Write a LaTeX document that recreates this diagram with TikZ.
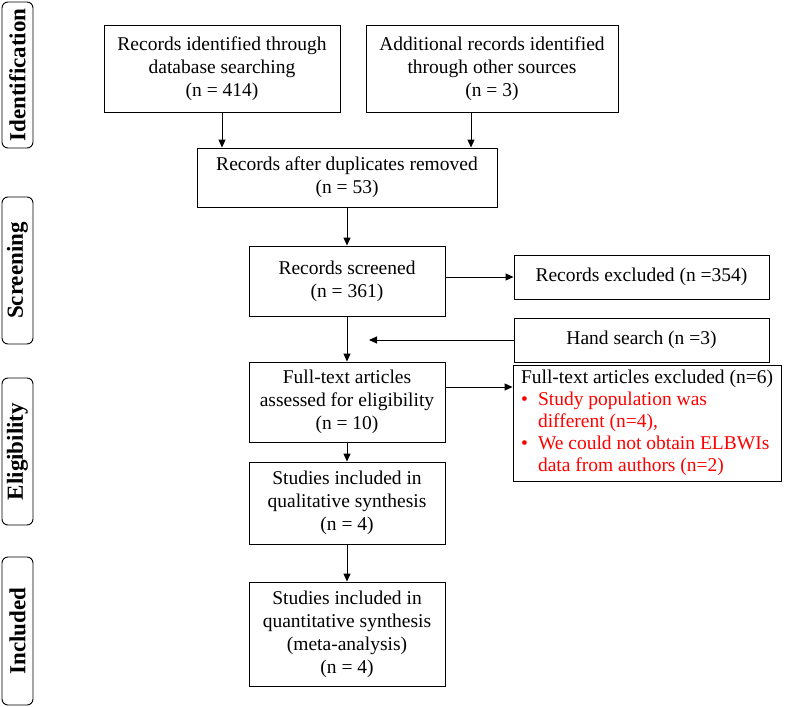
\documentclass[tikz,border=0pt]{standalone}
\usepackage{fontspec}
\setmainfont{Liberation Serif}
\usetikzlibrary{arrows.meta}
\begin{document}
\begin{tikzpicture}[x=1pt, y=-1pt,
  font=\fontsize{19.5pt}{23pt}\selectfont,
  box/.style={draw, line width=0.9pt, align=center, inner sep=0pt},
  phase/.style={draw, line width=0.9pt, rounded corners=6pt, rotate=90,
    minimum height=31pt, inner sep=0pt, font=\fontsize{23pt}{25pt}\selectfont\bfseries},
  arr/.style={-{Triangle[length=8pt,width=7pt]}, line width=0.9pt}]
\useasboundingbox (0,0) rectangle (786,706);

% phases on the left
\node[phase, minimum width=146pt] (ident) at (17.5,75) {Identification};
\node[phase, minimum width=147pt] (scr) at (17.5,270.5) {Screening};
\node[phase, minimum width=147pt] (elig) at (17.5,451.5) {Eligibility};
\node[phase, minimum width=148pt] (incl) at (17.5,631) {Included};

% main flow
\node[box, minimum width=236pt, minimum height=87pt] (dbrec) at (222,68.5) {Records identified through\\database searching\\(n = 414)};
\node[box, minimum width=252pt, minimum height=87pt] (other) at (492,68.5) {Additional records identified\\through other sources\\(n = 3)};
\node[box, minimum width=300pt, minimum height=59pt] (dupl) at (347,177.5) {Records after duplicates removed\\(n = 53)};
\node[box, minimum width=196pt, minimum height=70pt] (screen) at (347,281) {Records screened\\(n = 361)};
\node[box, minimum width=196pt, minimum height=80pt] (fulltext) at (347,402) {Full-text articles\\assessed for eligibility\\(n = 10)};
\node[box, minimum width=196pt, minimum height=82pt] (qual) at (347,503) {Studies included in\\qualitative synthesis\\(n = 4)};
\node[box, minimum width=196pt, minimum height=104pt] (quant) at (347,634) {Studies included in\\quantitative synthesis\\(meta-analysis)\\(n = 4)};

% right column
\node[box, minimum width=255pt, minimum height=44pt] (recexcl) at (641.5,277) {Records excluded (n =354)};
\node[box, minimum width=255pt, minimum height=44pt] (hand) at (641.5,340) {Hand search (n =3)};
\node[box, align=left, inner xsep=8pt, minimum width=268pt, minimum height=116pt,
  font=\fontsize{19.5pt}{22pt}\selectfont] (ftexcl) at (647,423)
  {Full-text articles excluded (n=6)\\
   \textcolor{red}{\makebox[17pt][l]{•}Study population was}\\
   \textcolor{red}{\hspace*{17pt}different (n=4),}\\
   \textcolor{red}{\makebox[17pt][l]{•}We could not obtain ELBWIs}\\
   \textcolor{red}{\hspace*{17pt}data from authors (n=2)}};

\coordinate (otherout) at (471,112);
\coordinate (handtip) at (369,340);
\coordinate (ftarrow) at (445,387);

\draw[arr] (dbrec.south) -- (dbrec.south |- dupl.north);
\draw[arr] (otherout) -- (otherout |- dupl.north);
\draw[arr] (dupl.south) -- (screen.north);
\draw[arr] (screen.east |- recexcl.west) -- (recexcl.west);
\draw[arr] (hand.west) -- (handtip);
\draw[arr] (screen.south) -- (fulltext.north);
\draw[arr] (ftarrow) -- (ftarrow -| ftexcl.west);
\draw[arr] (fulltext.south) -- (qual.north);
\draw[arr] (qual.south) -- (quant.north);
\end{tikzpicture}
\end{document}
